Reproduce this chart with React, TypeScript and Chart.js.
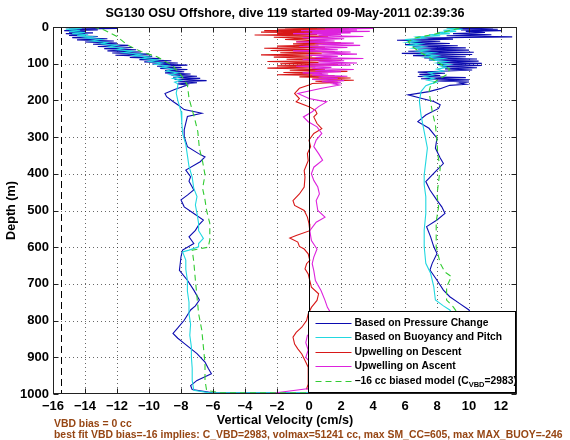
import React, { useEffect, useRef } from "react";
import { Chart, registerables } from "chart.js";

Chart.register(...registerables);

const FONT = "'Liberation Sans', Arial, Helvetica, sans-serif";

const chartTitle = "SG130 OSU Offshore, dive 119 started 09-May-2011 02:39:36";
const xAxisTitle = "Vertical Velocity (cm/s)";
const yAxisTitle = "Depth (m)";
const footerLines = [
  "VBD bias = 0 cc",
  "best fit VBD bias=-16 implies: C_VBD=2983, volmax=51241 cc, max SM_CC=605, max MAX_BUOY=-246",
];
const seriesLabels = [
  "Based on Pressure Change",
  "Based on Buoyancy and Pitch",
  "Upwelling on Descent",
  "Upwelling on Ascent",
  "\u221216 cc biased model (C",
];
const modelLabelSub = "VBD";
const modelLabelTail = "=2983)";

const xTicks = [-16, -14, -12, -10, -8, -6, -4, -2, 0, 2, 4, 6, 8, 10, 12];
const yTicks = [0, 100, 200, 300, 400, 500, 600, 700, 800, 900, 1000];
const xMin = -16;
const xMax = 13;
const yMin = 0;
const yMax = 1000;
const vbdLineX = -15.5;
const zeroLineX = 0;

// ---- Based on Pressure Change (blue) ----
const pressureDescDepth = [0, 2, 4, 6, 8, 10, 12, 14, 16, 18, 20, 23, 26, 29, 32, 35, 38, 41, 44, 47, 50, 53, 56, 59, 62, 65, 68, 71, 74, 77, 80, 83, 86, 89, 92, 95, 98, 101, 104, 107, 110, 113, 116, 119, 122, 125, 128, 131, 134, 137, 140, 143, 146, 149, 152, 155, 158,
  170, 181, 190, 203, 212, 225, 235, 244, 262, 280, 299, 326, 345, 354, 367, 390, 408, 420, 436, 444, 458, 471, 490, 508, 526, 540, 554, 572, 590, 608, 626, 645, 663, 690, 717, 744, 760, 771, 799, 820, 835, 848, 862, 890, 913, 930, 945, 963, 977, 988, 997];
const pressureDescVel = [-11.5, -15.2, -12.0, -15.0, -13.2, -15.3, -14.0, -15.0, -13.5, -15.2, -14.0, -15.0, -13.2, -14.8, -12.6, -14.5, -12.2, -14.0, -12.0, -13.5, -11.3, -13.2, -11.0, -12.8, -10.8, -12.6, -10.5, -12.3, -10.0, -12.1, -9.8, -11.2, -9.3, -10.6, -8.6, -10.3, -8.2, -9.8, -7.6, -9.5, -8.0, -9.3, -7.6, -9.0, -7.8, -9.0, -7.4, -8.6, -7.0, -8.5, -6.8, -8.4, -6.4, -8.2, -7.0, -8.2, -7.6,
  -8.4, -9.0, -8.9, -8.5, -8.2, -7.8, -6.7, -7.6, -7.7, -7.8, -7.8, -7.6, -6.9, -6.5, -6.8, -7.7, -7.4, -7.5, -7.3, -7.2, -7.6, -8.0, -7.8, -7.2, -6.6, -6.9, -7.1, -7.5, -7.2, -7.9, -8.0, -8.05, -8.1, -7.6, -7.2, -6.85, -7.1, -7.4, -7.8, -8.2, -8.5, -8.2, -7.8, -7.0, -6.5, -6.3, -6.1, -7.0, -7.4, -7.3, -6.0];
const pressureAscDepth = [0, 2, 4, 6, 8, 10, 12, 15, 18, 21, 24, 27, 30, 33, 36, 39, 42, 45, 48, 51, 54, 57, 60, 63, 66, 69, 72, 75, 78, 81, 84, 87, 90, 93, 96, 99, 102, 105, 108, 111, 114, 117, 120, 123, 126, 129, 132, 135, 138, 141, 144, 147, 150, 153, 156, 159,
  168, 176, 185, 194, 203, 212, 222, 240, 258, 276, 303, 330, 357, 372, 394, 421, 444, 471, 490, 508, 526, 544, 572, 599, 617, 644, 662, 690, 717, 735, 753, 771, 790, 820, 850, 880, 910, 940, 970, 992, 997];
const pressureAscVel = [9.0, 11.5, 9.0, 11.8, 9.5, 12.0, 9.8, 11.0, 9.0, 11.4, 8.6, 12.7, 7.0, 9.0, 5.5, 8.2, 6.2, 8.8, 6.0, 9.3, 6.5, 9.8, 6.8, 10.0, 6.2, 10.3, 5.8, 10.2, 6.5, 9.8, 7.2, 10.5, 7.5, 10.6, 8.0, 10.8, 8.0, 10.8, 8.3, 10.5, 8.5, 10.2, 8.7, 6.8, 8.5, 6.9, 8.2, 6.8, 9.8, 7.0, 10.0, 8.0, 10.0, 9.4, 9.8, 8.8,
  8.2, 7.5, 6.2, 7.0, 7.8, 8.2, 8.1, 7.3, 6.8, 7.5, 8.0, 7.9, 8.2, 8.4, 7.9, 7.3, 7.56, 7.98, 8.3, 8.5, 8.0, 7.35, 7.6, 7.8, 8.0, 7.7, 7.56, 8.0, 8.4, 8.8, 9.4, 10.0, 10.2, 10.1, 9.8, 10.2, 10.0, 9.8, 10.3, 10.5, 10.2];

// ---- Based on Buoyancy and Pitch (cyan) ----
const buoyDescDepth = [0, 3, 6, 9, 12, 15, 18, 21, 24, 27, 30, 34, 38, 42, 46, 50, 54, 58, 62, 66, 70, 74, 78, 82, 86, 90, 94, 98, 102, 106, 110, 115, 120, 125, 130, 135, 140, 145, 150, 155, 160,
  180, 200, 230, 260, 290, 320, 350, 380, 410, 440, 462, 485, 508, 535, 555, 576, 590, 599, 608, 613, 635, 660, 690, 720, 750, 781, 810, 840, 872, 900, 930, 963, 990, 997];
const buoyDescVel = [-15.0, -14.2, -15.2, -14.3, -15.0, -14.0, -14.8, -13.8, -14.5, -13.5, -14.0, -13.0, -13.6, -12.6, -13.0, -12.0, -12.5, -11.6, -12.0, -11.0, -11.6, -10.5, -11.0, -10.0, -10.4, -9.5, -10.0, -9.2, -9.6, -8.8, -9.2, -8.5, -8.9, -8.2, -8.7, -8.0, -8.5, -8.0, -8.4, -8.2, -8.2,
  -8.3, -8.2, -8.0, -7.95, -7.9, -7.7, -7.6, -7.5, -7.3, -7.2, -7.0, -7.1, -7.0, -6.9, -6.9, -6.6, -6.9, -6.9, -7.5, -7.9, -7.7, -7.7, -7.6, -7.6, -7.5, -7.5, -7.4, -7.45, -7.35, -7.35, -7.3, -7.3, -7.2, -6.2];
const buoyAscDepth = [0, 3, 6, 9, 12, 15, 18, 21, 24, 27, 30, 34, 38, 42, 46, 50, 54, 58, 62, 66, 70, 74, 78, 82, 86, 90, 94, 98, 102, 106, 110, 115, 120, 125, 130, 135, 140, 145, 150, 155, 160,
  176, 203, 240, 285, 330, 367, 403, 430, 462, 508, 553, 599, 644, 671, 708, 744, 760, 771, 800, 830, 860, 890, 920, 950, 975, 992, 997];
const buoyAscVel = [9.8, 8.6, 9.6, 8.4, 9.2, 8.0, 8.8, 7.5, 8.2, 6.8, 7.2, 6.0, 6.8, 6.1, 7.0, 6.3, 7.2, 6.5, 7.4, 6.8, 7.8, 7.0, 8.0, 7.3, 8.4, 7.7, 8.6, 8.0, 8.8, 8.2, 8.6, 8.0, 8.4, 7.5, 7.8, 7.2, 7.8, 7.4, 8.0, 7.6, 7.3,
  7.0, 6.9, 7.0, 7.2, 7.4, 7.3, 7.2, 7.2, 7.3, 7.3, 7.2, 7.2, 7.3, 7.6, 7.8, 7.9, 8.4, 8.8, 9.2, 9.4, 9.5, 9.4, 9.5, 9.6, 9.7, 9.8, 10.0];

// ---- -16 cc biased model (green dashed) ----
const modelDescDepth = [0, 8, 26, 49, 67, 81, 104, 131, 158, 194, 226, 249, 285, 331, 367, 403, 440, 471, 500, 535, 580, 600, 608, 640, 690, 735, 781, 826, 872, 917, 963, 990, 997];
const modelDescVel = [-13.5, -12.8, -12.0, -11.35, -10.5, -9.5, -8.55, -8.0, -7.6, -7.5, -7.3, -7.15, -6.95, -6.85, -6.65, -6.5, -6.65, -6.5, -6.4, -6.2, -6.2, -6.3, -7.3, -7.2, -7.1, -7.0, -6.9, -6.7, -6.6, -6.5, -6.5, -6.4, -5.5];
const modelAscDepth = [0, 8, 20, 30, 40, 55, 70, 85, 100, 115, 130, 145, 160, 176, 203, 230, 267, 312, 348, 385, 421, 457, 490, 530, 599, 644, 668, 680, 708, 744, 762, 780, 820, 870, 920, 960, 990, 997];
const modelAscVel = [9.6, 9.0, 7.8, 6.6, 6.2, 6.5, 7.0, 7.6, 8.2, 8.8, 8.6, 8.0, 7.6, 7.5, 7.6, 7.7, 7.9, 8.0, 8.05, 8.2, 8.1, 8.0, 8.1, 7.95, 7.95, 8.2, 8.5, 8.9, 8.6, 8.6, 9.0, 9.3, 9.8, 10.3, 10.8, 11.3, 11.7, 11.8];

// ---- Upwelling on Descent (red) ----
const upDescDepth = [0, 2, 4, 6, 8, 10, 12, 14, 16, 18, 20, 22, 25, 28, 31, 34, 37, 40, 43, 46, 49, 52, 55, 58, 61, 64, 67, 70, 73, 76, 79, 82, 85, 88, 91, 94, 97, 100, 103, 106, 109, 112, 115, 118, 121, 124, 127, 130, 133, 136, 139, 142, 145, 148, 151, 154, 158,
  167, 181, 195, 204, 217, 227, 236, 245, 263, 277, 290, 308, 326, 345, 364, 391, 409, 436, 455, 473, 486, 500, 518, 536, 555, 568, 575, 586, 598, 605, 618, 636, 645, 659, 673, 691, 709, 727, 745, 764, 782, 800, 818, 832, 845, 864, 877, 891, 909, 927, 945, 973, 986, 996];
const upDescVel = [0.5, -1.5, 2.5, -2.0, 1.5, -2.8, 0.8, -3.0, 1.8, -2.0, 0.5, -3.4, 1.2, -2.2, 0.0, -1.5, 1.0, -0.8, 2.0, -1.0, 0.6, -2.0, 1.0, -2.8, 0.4, -2.4, 1.6, -1.8, 0.8, -3.0, 0.2, -2.2, 1.4, -1.4, 2.0, -2.6, 0.6, -1.8, 1.8, -2.0, 0.4, -2.6, 1.0, -1.2, 2.4, -1.6, 0.8, -2.0, 1.6, -0.6, 2.6, 0.2, 2.8, 0.4, 1.8, 0.2, 0.0,
  -0.6, -0.9, -0.6, -0.8, 0.0, 0.4, 0.5, 0.3, 0.5, 0.8, 0.3, 0.0, 0.1, -0.1, -0.05, -0.3, -0.25, -0.3, -0.6, -1.0, -0.9, -0.3, -0.1, 0.0, 0.05, -0.8, -1.2, -0.7, -0.6, -0.3, -0.05, 0.05, -0.15, -0.25, -0.05, 0.05, 0.15, 0.6, 0.5, 0.15, -0.05, -0.15, -0.45, -0.8, -1.0, -0.9, -0.7, -0.45, -0.25, -0.05, -0.05, -0.05, -0.15, 2.5];

// ---- Upwelling on Ascent (magenta) ----
const upAscDepth = [0, 2, 4, 6, 8, 10, 12, 14, 16, 18, 20, 23, 26, 29, 32, 35, 38, 41, 44, 47, 50, 53, 56, 59, 62, 65, 68, 71, 74, 77, 80, 83, 86, 89, 92, 95, 98, 101, 104, 107, 110, 113, 116, 119, 122, 125, 128, 131, 134, 137, 140, 143, 146, 149, 152, 155, 158,
  167, 181, 195, 204, 217, 231, 245, 258, 272, 290, 308, 326, 345, 363, 382, 400, 418, 436, 455, 473, 500, 518, 532, 555, 582, 605, 627, 645, 664, 691, 718, 745, 764, 782, 810, 840, 860, 880, 900, 930, 960, 985, 998];
const upAscVel = [3.5, 0.5, 4.0, 1.0, 3.0, -0.5, 3.8, 0.2, 2.6, -1.0, 2.0, 0.6, 3.4, -0.4, 2.2, 0.0, 1.6, -0.8, 2.8, 0.4, 3.2, -0.6, 2.4, 0.0, 1.8, -1.0, 2.6, 0.8, 3.0, -0.2, 1.8, 0.4, 3.4, -0.4, 2.2, 0.6, 3.0, 0.0, 2.6, -0.8, 1.4, 0.2, 2.8, 0.4, 2.0, -0.4, 1.2, 0.2, 2.4, 0.6, 1.8, 0.2, 2.2, 0.8, 2.0, 1.5, 1.9,
  0.8, -0.7, 0.0, 1.1, 0.6, 0.2, -0.35, -0.05, 0.5, 0.8, 0.45, 0.3, 0.6, 0.85, 0.3, 0.15, 0.3, 0.55, 0.65, 0.45, 0.55, 1.0, 0.45, 0.05, 0.15, 0.5, 0.3, 0.2, 0.3, 0.4, 0.75, 1.0, 1.15, 1.4, 1.2, -0.1, -0.2, -0.05, -0.2, 0.4, 0.6, 0.0, -2.3];

const seriesColors = ["#0b0bb0", "#22d8e0", "#d81818", "#dd22dd", "#33cc33"];
const modelDash = [6, 4];

function pts(depth: number[], vel: number[]) {
  return depth.map((d, i) => ({ x: vel[i], y: d }));
}
function dive(dDepth: number[], dVel: number[], aDepth: number[], aVel: number[]) {
  return pts(dDepth, dVel).concat(pts(aDepth, aVel).reverse());
}
function fmt(v: number) {
  return v < 0 ? "\u2212" + Math.abs(v) : String(v);
}

const overlay = {
  id: "overlay",
  beforeDatasetsDraw(chart: any) {
    const { ctx, chartArea: a, scales } = chart;
    const xs = scales.x;
    const ys = scales.y;
    ctx.save();
    ctx.strokeStyle = "rgba(40,40,40,0.7)";
    ctx.lineWidth = 1;
    ctx.setLineDash([1, 3]);
    for (const v of xTicks) {
      const px = Math.round(xs.getPixelForValue(v)) + 0.5;
      if (px <= a.left + 1 || px >= a.right - 1) continue;
      ctx.beginPath();
      ctx.moveTo(px, a.top);
      ctx.lineTo(px, a.bottom);
      ctx.stroke();
    }
    for (const v of yTicks) {
      const py = Math.round(ys.getPixelForValue(v)) + 0.5;
      if (py <= a.top + 1 || py >= a.bottom - 1) continue;
      ctx.beginPath();
      ctx.moveTo(a.left, py);
      ctx.lineTo(a.right, py);
      ctx.stroke();
    }
    ctx.restore();
  },
  afterDatasetsDraw(chart: any) {
    const { ctx, chartArea: a, scales } = chart;
    const xs = scales.x;
    const ys = scales.y;
    ctx.save();
    // reference lines
    ctx.strokeStyle = "#000";
    ctx.lineWidth = 1;
    ctx.setLineDash([7, 4]);
    let px = Math.round(xs.getPixelForValue(vbdLineX)) + 0.5;
    ctx.beginPath();
    ctx.moveTo(px, a.top);
    ctx.lineTo(px, a.bottom);
    ctx.stroke();
    ctx.setLineDash([]);
    px = Math.round(xs.getPixelForValue(zeroLineX)) + 0.5;
    ctx.beginPath();
    ctx.moveTo(px, a.top);
    ctx.lineTo(px, a.bottom);
    ctx.stroke();

    // box
    ctx.strokeStyle = "#222";
    const L = Math.round(a.left) + 0.5, R = Math.round(a.right) - 0.5;
    const T = Math.round(a.top) + 0.5, B = Math.round(a.bottom) - 0.5;
    ctx.strokeRect(L, T, R - L, B - T);
    const tl = 5;
    ctx.beginPath();
    for (const v of xTicks) {
      const x = Math.round(xs.getPixelForValue(v)) + 0.5;
      ctx.moveTo(x, B); ctx.lineTo(x, B - tl);
      ctx.moveTo(x, T); ctx.lineTo(x, T + tl);
    }
    for (const v of yTicks) {
      const y = Math.round(ys.getPixelForValue(v)) + 0.5;
      ctx.moveTo(L, y); ctx.lineTo(L + tl, y);
      ctx.moveTo(R, y); ctx.lineTo(R - tl, y);
    }
    ctx.stroke();

    // legend
    const lw = 207, lh = 81;
    const lx = Math.round(a.right) - 2 - lw + 0.5;
    const ly = Math.round(a.bottom) - 2 - lh + 0.5;
    ctx.fillStyle = "#fff";
    ctx.fillRect(lx, ly, lw, lh);
    ctx.strokeStyle = "#000";
    ctx.strokeRect(lx, ly, lw, lh);
    ctx.textBaseline = "middle";
    ctx.textAlign = "left";
    const lf = `bold 10.3px ${FONT}`;
    for (let i = 0; i < seriesLabels.length; i++) {
      const y = Math.round(ly + 11 + i * 14.6) + 0.5;
      ctx.strokeStyle = seriesColors[i];
      ctx.lineWidth = 1;
      ctx.setLineDash(i === 4 ? modelDash : []);
      ctx.beginPath();
      ctx.moveTo(lx + 7, y);
      ctx.lineTo(lx + 43, y);
      ctx.stroke();
      ctx.setLineDash([]);
      ctx.fillStyle = "#000";
      ctx.font = lf;
      const tx = lx + 46;
      ctx.fillText(seriesLabels[i], tx, y);
      if (i === 4) {
        const w1 = ctx.measureText(seriesLabels[i]).width;
        ctx.font = `bold 7.5px ${FONT}`;
        ctx.fillText(modelLabelSub, tx + w1, y + 3);
        const w2 = ctx.measureText(modelLabelSub).width;
        ctx.font = lf;
        ctx.fillText(modelLabelTail, tx + w1 + w2, y);
      }
    }
    ctx.restore();
  },
  afterDraw(chart: any) {
    const { ctx, chartArea: a } = chart;
    const cx = (a.left + a.right) / 2;
    ctx.save();
    ctx.fillStyle = "#000";
    ctx.textBaseline = "middle";
    ctx.textAlign = "center";
    ctx.font = `bold 12.6px ${FONT}`;
    ctx.fillText(chartTitle, cx, 14);
    ctx.font = `bold 12.6px ${FONT}`;
    ctx.fillText(xAxisTitle, cx, 421);
    ctx.save();
    ctx.translate(12, (a.top + a.bottom) / 2);
    ctx.rotate(-Math.PI / 2);
    ctx.fillText(yAxisTitle, 0, 0);
    ctx.restore();
    ctx.textAlign = "left";
    ctx.fillStyle = "rgb(150,70,20)";
    ctx.font = `bold 10.4px ${FONT}`;
    ctx.fillText(footerLines[0], a.left + 1, 424);
    ctx.fillText(footerLines[1], a.left + 1, 435);
    ctx.restore();
  },
};

export default function App() {
  const ref = useRef<HTMLCanvasElement | null>(null);
  useEffect(() => {
    if (!ref.current) return;
    const line = (label: string, data: any[], color: string, order: number, dash: number[] = []) => ({
      label,
      data,
      showLine: true,
      borderColor: color,
      backgroundColor: color,
      borderWidth: 1.1,
      borderDash: dash,
      pointRadius: 0,
      pointHoverRadius: 0,
      fill: false,
      tension: 0,
      order,
    });
    const chart = new Chart(ref.current, {
      type: "scatter",
      data: {
        datasets: [
          line(seriesLabels[0], dive(pressureDescDepth, pressureDescVel, pressureAscDepth, pressureAscVel), seriesColors[0], 5),
          line(seriesLabels[1], dive(buoyDescDepth, buoyDescVel, buoyAscDepth, buoyAscVel), seriesColors[1], 4),
          line(seriesLabels[2], pts(upDescDepth, upDescVel), seriesColors[2], 3),
          line(seriesLabels[3], pts(upAscDepth, upAscVel), seriesColors[3], 2),
          line(seriesLabels[4], dive(modelDescDepth, modelDescVel, modelAscDepth, modelAscVel), seriesColors[4], 1, modelDash),
        ],
      },
      options: {
        responsive: false,
        animation: false,
        devicePixelRatio: 1,
        layout: { padding: { top: 27, right: 53, left: 0, bottom: 0 } },
        plugins: {
          legend: { display: false },
          title: { display: false },
          tooltip: { enabled: false },
        },
        events: [],
        scales: {
          x: {
            type: "linear",
            min: xMin,
            max: xMax,
            grid: { display: false, drawTicks: false },
            border: { display: false },
            afterBuildTicks: (s: any) => {
              s.ticks = xTicks.map((v) => ({ value: v }));
            },
            afterFit: (s: any) => {
              s.height = 46;
            },
            ticks: {
              autoSkip: false,
              maxRotation: 0,
              padding: 5,
              color: "#000",
              font: { family: FONT, size: 13, weight: "bold" },
              callback: (v: any) => fmt(Number(v)),
            },
          },
          y: {
            type: "linear",
            reverse: true,
            min: yMin,
            max: yMax,
            grid: { display: false, drawTicks: false },
            border: { display: false },
            afterBuildTicks: (s: any) => {
              s.ticks = yTicks.map((v) => ({ value: v }));
            },
            afterFit: (s: any) => {
              s.width = 53;
            },
            ticks: {
              autoSkip: false,
              padding: 4,
              color: "#000",
              font: { family: FONT, size: 13, weight: "bold" },
              callback: (v: any) => fmt(Number(v)),
            },
          },
        },
      } as any,
      plugins: [overlay],
    });
    return () => chart.destroy();
  }, []);
  return (
    <div style={{ position: "absolute", left: 0, top: 0, width: 570, height: 440, background: "#fff" }}>
      <canvas ref={ref} width={570} height={440} style={{ width: 570, height: 440, display: "block" }} />
    </div>
  );
}
